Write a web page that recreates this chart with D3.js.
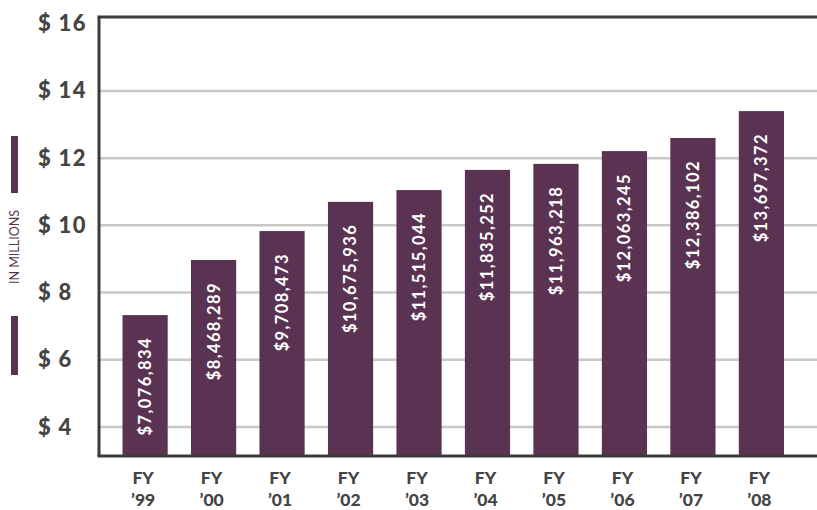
<!DOCTYPE html>
<html>
<head>
<meta charset="utf-8">
<script src="https://cdn.jsdelivr.net/npm/d3@7"></script>
<style>
  body { margin: 0; background: #fff; }
  svg { display: block; font-family: Lato, "Open Sans", sans-serif; }
</style>
</head>
<body>
<svg width="817" height="510"></svg>
<script>
// fiscal years
var years = ["'99", "'00", "'01", "'02", "'03", "'04", "'05", "'06", "'07", "'08"];
// bar heights in millions, as drawn in the picture
var barHeights = [7.33, 8.97, 9.83, 10.70, 11.05, 11.65, 11.83, 12.21, 12.60, 13.40];
// amounts printed inside the bars
var amounts = ["$7,076,834", "$8,468,289", "$9,708,473", "$10,675,936", "$11,515,044",
  "$11,835,252", "$11,963,218", "$12,063,245", "$12,386,102", "$13,697,372"];
// y ticks
var yTicks = [4, 6, 8, 10, 12, 14, 16];

var barColor = "#5b3352";
var textColor = "#444";

var svg = d3.select("svg");
var width = +svg.attr("width");

var frameLeft = 99, frameTop = 17, frameBottom = 456;

var y = d3.scaleLinear()
  .domain([3.137, 16.2])
  .range([frameBottom, frameTop]);

var x = d3.scaleBand()
  .domain(years)
  .range([122.5, 784])
  .paddingInner(0.34)
  .paddingOuter(0);

// gridlines
svg.append("g")
  .attr("class", "grid")
  .selectAll("line")
  .data(yTicks.filter(function(d) { return d < 16; }))
  .enter().append("line")
    .attr("x1", frameLeft)
    .attr("x2", width)
    .attr("y1", function(d) { return y(d); })
    .attr("y2", function(d) { return y(d); })
    .attr("stroke", "#c8c8c8")
    .attr("stroke-width", 2.5);

// y labels (left aligned)
var yAxis = svg.append("g")
  .attr("transform", "translate(" + frameLeft + ",0)")
  .call(d3.axisLeft(y).tickValues(yTicks).tickSize(0)
    .tickFormat(function(d) { return "$ " + d; }));
yAxis.select(".domain").remove();
yAxis.selectAll("text")
  .attr("x", -61)
  .attr("text-anchor", "start")
  .attr("fill", textColor)
  .style("font-family", "Lato, sans-serif")
  .style("font-size", "22px")
  .style("font-weight", 900)
  .style("letter-spacing", "1.3px");

// bars
svg.append("g")
  .selectAll("rect")
  .data(barHeights)
  .enter().append("rect")
    .attr("x", function(d, i) { return x(years[i]); })
    .attr("y", function(d) { return y(d); })
    .attr("width", x.bandwidth())
    .attr("height", function(d) { return frameBottom - y(d); })
    .attr("fill", barColor);

// amounts inside bars
svg.append("g")
  .selectAll("text")
  .data(barHeights)
  .enter().append("text")
    .attr("transform", function(d, i) {
      return "translate(" + (x(years[i]) + x.bandwidth() / 2) + "," + (y(d) + 22) + ") rotate(-90)";
    })
    .attr("text-anchor", "end")
    .attr("dy", "0.36em")
    .attr("fill", "#fff")
    .style("font-size", "16.5px")
    .style("font-weight", 700)
    .style("letter-spacing", "1.4px")
    .text(function(d, i) { return amounts[i]; });

// frame
var frame = svg.append("g").attr("stroke", "#3c3c3c").attr("stroke-width", 3);
frame.append("line").attr("x1", frameLeft - 1.5).attr("x2", width).attr("y1", frameTop).attr("y2", frameTop);
frame.append("line").attr("x1", frameLeft).attr("x2", frameLeft).attr("y1", frameTop).attr("y2", frameBottom);
frame.append("line").attr("x1", frameLeft - 1.5).attr("x2", width).attr("y1", frameBottom).attr("y2", frameBottom);

// x labels
var xl = svg.append("g")
  .selectAll("g")
  .data(years)
  .enter().append("g")
    .attr("transform", function(d) { return "translate(" + (x(d) + x.bandwidth() / 2 - 2) + ",0)"; })
    .attr("fill", textColor)
    .style("font-size", "17.5px")
    .style("font-weight", 900)
    .attr("text-anchor", "middle");
xl.append("text").attr("y", 484).text("FY");
xl.append("text").attr("y", 506).text(function(d) { return d.replace("'", "\u2019"); });

// "IN MILLIONS" side label with bars
svg.append("text")
  .attr("transform", "translate(14,247) rotate(-90)")
  .attr("text-anchor", "middle")
  .attr("dy", "0.36em")
  .attr("fill", barColor)
  .style("font-size", "12.5px")
  .text("IN MILLIONS");
svg.append("rect").attr("x", 11).attr("y", 136).attr("width", 7).attr("height", 57).attr("fill", barColor);
svg.append("rect").attr("x", 11).attr("y", 316).attr("width", 7).attr("height", 59).attr("fill", barColor);
</script>
</body>
</html>
